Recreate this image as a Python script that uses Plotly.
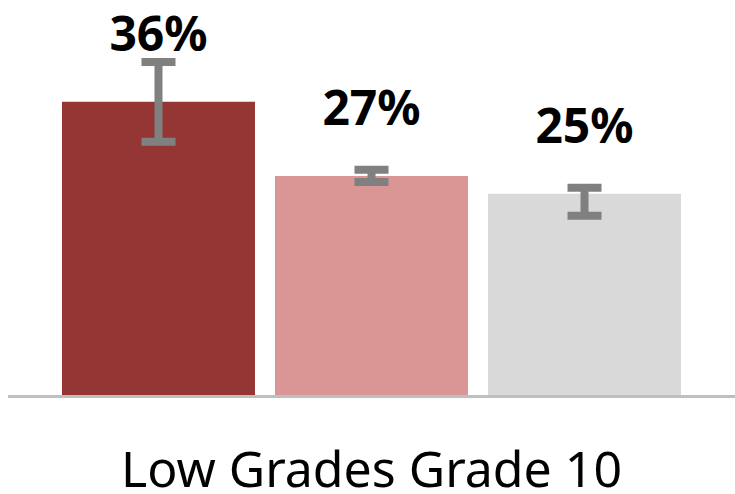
import plotly.graph_objects as go

category = ["Low Grades Grade 10"]
series_names = ["Series A", "Series B", "Series C"]
values = [36.0, 26.9, 24.7]
err_plus = [4.9, 0.75, 0.75]
err_minus = [4.9, 0.75, 2.7]
colors = ["#943634", "#D99694", "#D9D9D9"]
label_texts = ["36%", "27%", "25%"]

LABEL_OFFSET = 7.75  # data units above bar top

fig = go.Figure()
for i, name in enumerate(series_names):
    fig.add_trace(go.Bar(
        x=category, y=[values[i]], name=name,
        marker=dict(color=colors[i], line=dict(width=0)),
        offsetgroup=str(i),
        error_y=dict(type="data", symmetric=False,
                     array=[err_plus[i]], arrayminus=[err_minus[i]],
                     color="#808080", thickness=8, width=17),
        hoverinfo="skip",
    ))
for i, name in enumerate(series_names):
    fig.add_trace(go.Scatter(
        x=category, y=[values[i] + LABEL_OFFSET], mode="text",
        text=[label_texts[i]], textposition="middle center",
        textfont=dict(family="Noto Sans", size=48, color="#000000", weight="bold"),
        offsetgroup=str(i), showlegend=False, hoverinfo="skip",
        cliponaxis=False,
    ))

fig.update_layout(
    width=735, height=494,
    margin=dict(l=8, r=0, t=0, b=99),
    paper_bgcolor="white", plot_bgcolor="white",
    barmode="group", bargap=0.121, bargroupgap=0.094,
    scattermode="group", scattergap=0.121,
    showlegend=False,
    xaxis=dict(showline=True, linecolor="#BFBFBF", linewidth=3,
               showgrid=False, zeroline=False, ticks="",
               tickfont=dict(family="Noto Sans", size=50, color="#000000"),
               ticklabelstandoff=29, automargin=False),
    yaxis=dict(range=[0, 48.5], visible=False, showgrid=False, zeroline=False),
)

fig.write_html("out.html", config={"displayModeBar": False},
               post_script="document.body.style.margin='0';document.body.style.overflow='hidden';")
